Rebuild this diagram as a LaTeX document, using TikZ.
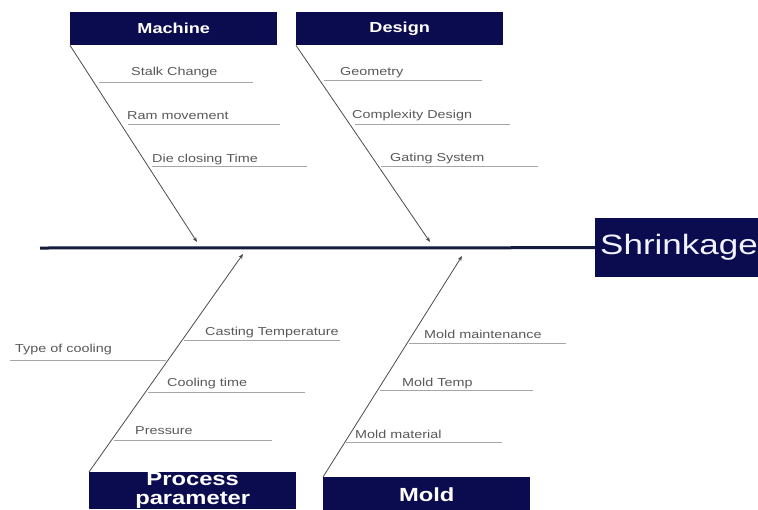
\documentclass[tikz,border=0pt]{standalone}
\usepackage{fontspec}
\setmainfont[FakeStretch=1.25]{Liberation Sans}
\usetikzlibrary{arrows.meta}

\definecolor{boxnavy}{HTML}{0B0B50}
\definecolor{spinenavy}{HTML}{141B3C}

\begin{document}
\begin{tikzpicture}[x=1pt,y=-1pt,
    catbox/.style={fill=boxnavy,text=white,inner sep=0pt,anchor=north west,minimum width=207pt},
    bone/.style={draw=black!70,line width=0.8pt,-{Stealth[length=5pt,width=4pt]}},
    rib/.style={draw=black!35,line width=0.6pt},
    cause/.style={text=black!65,inner sep=0pt,anchor=base west,font=\fontsize{11.5}{13}\selectfont}]
        % Background
        \clip (0,0) rectangle (758,509);
        \fill[white] (0,0) rectangle (758,509);

        % Category boxes
        \node[catbox,minimum height=33pt,font=\fontsize{14.5}{16}\selectfont\bfseries] (machine) at (70,12) {Machine};
        \node[catbox,minimum height=33pt,font=\fontsize{14.5}{16}\selectfont\bfseries] (design) at (296,12) {Design};
        \node[catbox,minimum height=37pt,align=center,font=\fontsize{19}{19}\selectfont\bfseries] (process) at (89,472) {Process\\parameter};
        \node[catbox,minimum height=36pt,font=\fontsize{19}{20}\selectfont\bfseries] (mold) at (323,477) {Mold};
        \node[catbox,minimum width=200pt,minimum height=59pt,text width=190pt,inner xsep=5pt,align=left,
              text=blue!5,font=\fontsize{28}{30}\selectfont] (effect) at (595,218) {Shrinkage};

        % Spine
        \coordinate (tail) at (40,248);
        \draw[spinenavy,line width=3pt] (tail) -- (effect.west);

        % Bones
        \coordinate (machtip) at (197,242);
        \coordinate (designtip) at (430,242);
        \coordinate (proctip) at (243,254);
        \coordinate (moldtip) at (462,256);
        \draw[bone] (machine.south west) -- (machtip);
        \draw[bone] (design.south west) -- (designtip);
        \draw[bone] (process.north west) -- (proctip);
        \draw[bone] (mold.north west) -- (moldtip);

        % Ribs
        \foreach \xa/\xb/\y in {99/253/82, 128/280/124, 152/307/166,
                                324/482/80, 355/510/124, 381/538/166,
                                184/340/340, 10/166/360, 148/305/392, 114/272/440,
                                409/566/343, 380/533/390, 346/502/442} {
            \draw[rib] (\xa,\y) -- (\xb,\y);
        }

        % Causes
        \foreach \t/\x/\y [count=\i] in {Stalk Change/131/75, Ram movement/127/119, Die closing Time/152/162} {
            \node[cause] (mc\i) at (\x,\y) {\t};
        }
        \foreach \t/\x/\y [count=\i] in {Geometry/340/75, Complexity Design/352/118, Gating System/390/161} {
            \node[cause] (dc\i) at (\x,\y) {\t};
        }
        \foreach \t/\x/\y [count=\i] in {Casting Temperature/205/335, Type of cooling/15/352, Cooling time/167/386, Pressure/135/434} {
            \node[cause] (pc\i) at (\x,\y) {\t};
        }
        \foreach \t/\x/\y [count=\i] in {Mold maintenance/424/338, Mold Temp/402/386, Mold material/355/438} {
            \node[cause] (oc\i) at (\x,\y) {\t};
        }
\end{tikzpicture}
\end{document}
